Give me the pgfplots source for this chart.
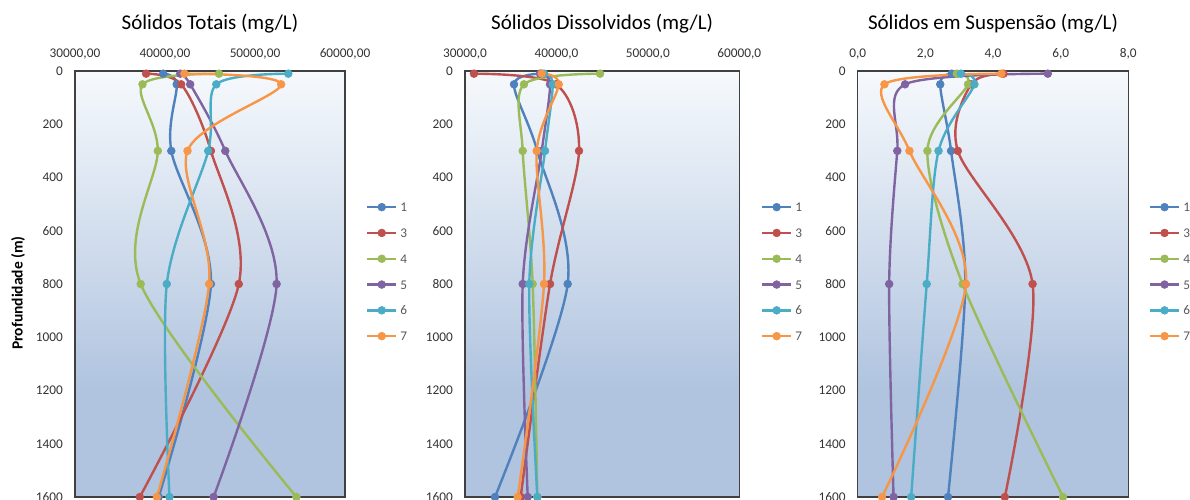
\documentclass[border=0pt]{standalone}
\usepackage{fontspec}
\setmainfont{Carlito}
\usepackage{pgfplots}
\pgfplotsset{compat=1.18}
\definecolor{c1}{HTML}{4F81BD}
\definecolor{c3}{HTML}{C0504D}
\definecolor{c4}{HTML}{9BBB59}
\definecolor{c5}{HTML}{8064A2}
\definecolor{c6}{HTML}{4BACC6}
\definecolor{c7}{HTML}{F79646}
\definecolor{bgtop}{HTML}{F6F9FC}
\definecolor{bgbot}{HTML}{B0C4DF}
\definecolor{axcol}{HTML}{404040}
\definecolor{tickcol}{HTML}{333333}
\definecolor{legcol}{HTML}{595959}
\pgfdeclareverticalshading{bgsh}{100bp}{color(0bp)=(bgbot); color(37.5bp)=(bgbot); color(75bp)=(bgtop); color(100bp)=(bgtop)}
\pgfplotsset{
  panel/.style={
    scale only axis, height=426pt, anchor=center,
    y dir=reverse, ymin=0, ymax=1600, ytick={0,200,...,1600},
    xticklabel pos=upper, scaled x ticks=false,
    axis background/.style={shading=bgsh},
    axis line style={draw=axcol, line width=1.5pt},
    major tick length=0pt,
    tick label style={font=\fontsize{13.3}{15}\selectfont, text=tickcol},
    yticklabel style={anchor=east, inner sep=0pt, xshift=-12pt},
    xticklabel style={anchor=south, inner sep=0pt, yshift=12pt},
    /pgf/number format/assume math mode=true,
    /pgf/number format/1000 sep={},
    title style={font=\fontsize{21}{25}\selectfont, at={(0.5,1)}, anchor=center, yshift=41pt},
    every axis plot/.append style={smooth, line width=2.4pt, mark=*, mark size=3.9pt, mark options={solid, line width=0.6pt}},
    legend style={draw=none, fill=none, inner sep=0pt, outer sep=0pt, anchor=west,
      font=\fontsize{13.3}{15}\selectfont, text=legcol,
      nodes={inner sep=0pt, text height=9pt, text depth=0pt},
      row sep=16.8pt, column sep=3pt},
    legend cell align=left,
    legend image code/.code={\draw[mark repeat=2,mark phase=2] plot coordinates {(0pt,0pt) (14.5pt,0pt) (29pt,0pt)};},
    clip=false,
  }
}
\begin{document}
\begin{tikzpicture}
% Panel 1
\begin{axis}[panel, at={(210pt,215pt)}, width=270pt,
  xmin=30000, xmax=60000, xtick={30000,40000,50000,60000},
  xticklabels={{30000,00},{40000,00},{50000,00},{60000,00}},
  title={Sólidos Totais (mg/L)},
  legend style={at={(1.078,0.529)}}]
\addplot[c1] coordinates {(39800,10) (41300,50) (40700,300) (45100,800) (39300,1600)};
\addplot[c3] coordinates {(37900,10) (41800,50) (45100,300) (48200,800) (37200,1600)};
\addplot[c4] coordinates {(46000,10) (37500,50) (39200,300) (37300,800) (54600,1600)};
\addplot[c5] coordinates {(41700,10) (42800,50) (46700,300) (52400,800) (45400,1600)};
\addplot[c6] coordinates {(53700,10) (45700,50) (44800,300) (40200,800) (40500,1600)};
\addplot[c7] coordinates {(42150,10) (52900,50) (42500,300) (44900,800) (39100,1600)};
\legend{1,3,4,5,6,7}
\end{axis}
% Panel 2
\begin{axis}[panel, at={(602.15pt,215pt)}, width=274.3pt,
  xmin=30000, xmax=60000, xtick={30000,40000,50000,60000},
  xticklabels={{30000,0},{40000,0},{50000,0},{60000,0}},
  title={Sólidos Dissolvidos (mg/L)},
  legend style={at={(1.079,0.529)}}]
\addplot[c1] coordinates {(38390,10) (35360,50) (37900,300) (41230,800) (33280,1600)};
\addplot[c3] coordinates {(30980,10) (39950,50) (42470,300) (39300,800) (36090,1600)};
\addplot[c4] coordinates {(44770,10) (36450,50) (36310,300) (37400,800) (37910,1600)};
\addplot[c5] coordinates {(38200,10) (39300,50) (38390,300) (36310,800) (36860,1600)};
\addplot[c6] coordinates {(38640,10) (39590,50) (38750,300) (37030,800) (37910,1600)};
\addplot[c7] coordinates {(38390,10) (40250,50) (37840,300) (38640,800) (35760,1600)};
\legend{1,3,4,5,6,7}
\end{axis}
% Panel 3
\begin{axis}[panel, at={(993pt,215pt)}, width=270.6pt,
  xmin=0, xmax=8, xtick={0,2,4,6,8},
  xticklabels={{0,0},{2,0},{4,0},{6,0},{8,0}},
  title={Sólidos em Suspensão (mg/L)},
  legend style={at={(1.076,0.529)}}]
\addplot[c1] coordinates {(2.78,10) (2.44,50) (2.76,300) (3.18,800) (2.67,1600)};
\addplot[c3] coordinates {(4.31,10) (3.35,50) (2.96,300) (5.17,800) (4.35,1600)};
\addplot[c4] coordinates {(2.93,10) (3.26,50) (2.06,300) (3.10,800) (6.07,1600)};
\addplot[c5] coordinates {(5.62,10) (1.40,50) (1.17,300) (0.93,800) (1.06,1600)};
\addplot[c6] coordinates {(3.05,10) (3.45,50) (2.39,300) (2.04,800) (1.58,1600)};
\addplot[c7] coordinates {(4.25,10) (0.79,50) (1.53,300) (3.20,800) (0.72,1600)};
\legend{1,3,4,5,6,7}
\end{axis}
\node[rotate=90, font=\bfseries\fontsize{15.5}{18}\selectfont] at (18pt,206pt) {Profundidade (m)};
\pgfresetboundingbox
\path[use as bounding box] (0pt,0pt) rectangle (1190pt,499pt);
\end{tikzpicture}
\end{document}
